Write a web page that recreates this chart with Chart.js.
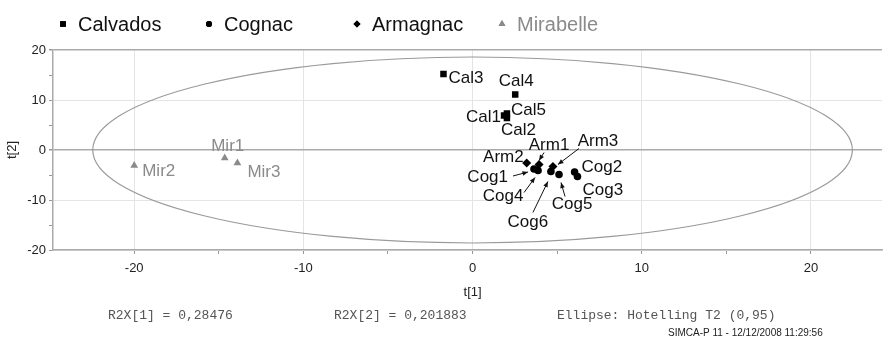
<!DOCTYPE html>
<html>
<head>
<meta charset="utf-8">
<script src="https://cdn.jsdelivr.net/npm/chart.js@4/dist/chart.umd.min.js"></script>
<style>
  html, body { margin: 0; padding: 0; background: #fff; }
  #contenedor { width: 889px; height: 342px; position: relative; }
</style>
</head>
<body>
<div id="contenedor"><canvas id="graficaScores"></canvas></div>
<script>
const calvadosNombres = ['Cal1', 'Cal2', 'Cal3', 'Cal4', 'Cal5'];
const calvadosT1 = [1.86, 2.03, -1.72, 2.52, 2.03];
const calvadosT2 = [6.9, 6.4, 15.2, 11.1, 7.3];

const cognacNombres = ['Cog1', 'Cog2', 'Cog3', 'Cog4', 'Cog5', 'Cog6'];
const cognacT1 = [3.63, 6.03, 6.2, 3.87, 5.11, 4.63];
const cognacT2 = [-3.8, -4.4, -5.3, -4.1, -4.9, -4.3];

const armagnacNombres = ['Arm1', 'Arm2', 'Arm3'];
const armagnacT1 = [3.93, 3.2, 4.75];
const armagnacT2 = [-2.9, -2.6, -3.3];

const mirabelleNombres = ['Mir1', 'Mir2', 'Mir3'];
const mirabelleT1 = [-14.65, -20.0, -13.9];
const mirabelleT2 = [-1.6, -3.1, -2.6];

// elipse Hotelling T2 (0,95): semiejes en t[1] y t[2]
const elipseT1 = 22.45;
const elipseT2 = 18.6;

const ticksT1 = [-20, -10, 0, 10, 20];
const ticksT2 = [-20, -10, 0, 10, 20];

const textosPie = ['R2X[1] = 0,28476', 'R2X[2] = 0,201883', 'Ellipse: Hotelling T2 (0,95)'];
const textoSimca = 'SIMCA-P 11 - 12/12/2008 11:29:56';

function puntos(xs, ys, nombres) {
  return xs.map((x, i) => ({ x: x, y: ys[i], nombre: nombres[i] }));
}

// posicion de cada etiqueta respecto a su punto (px), y flecha opcional
const etiquetas = {
  Cal1: { dx: -3, dy: 2, align: 'right' },
  Cal2: { dx: -6, dy: 12, align: 'left' },
  Cal3: { dx: 5, dy: 4, align: 'left' },
  Cal4: { dx: 1, dy: -13, align: 'center' },
  Cal5: { dx: 4, dy: -3, align: 'left' },
  Arm1: { dx: 10, dy: -19, align: 'center', flecha: [5, -12, 0, -4] },
  Arm2: { dx: -3, dy: -6, align: 'right' },
  Arm3: { dx: 45, dy: -25, align: 'center', flecha: [26, -18, 5, -2] },
  Cog1: { dx: -26, dy: 8, align: 'right', flecha: [-21, 7, -6, 3] },
  Cog2: { dx: 7, dy: -5, align: 'left' },
  Cog3: { dx: 5, dy: 14, align: 'left' },
  Cog4: { dx: -35, dy: 26, align: 'center', flecha: [-14, 22, -3, 7] },
  Cog5: { dx: 13, dy: 30, align: 'center', flecha: [6, 22, 2, 8] },
  Cog6: { dx: -23, dy: 51, align: 'center', flecha: [-18, 41, -3, 10] },
  Mir1: { dx: 3, dy: -12, align: 'center' },
  Mir2: { dx: 8, dy: 6, align: 'left' },
  Mir3: { dx: 10, dy: 9, align: 'left' }
};

const gris = '#8a8a8a';

const pluginElipse = {
  id: 'elipse',
  beforeDatasetsDraw(chart) {
    const ctx = chart.ctx;
    const sx = chart.scales.x, sy = chart.scales.y;
    const cx = sx.getPixelForValue(0), cy = sy.getPixelForValue(0);
    const rx = sx.getPixelForValue(elipseT1) - cx;
    const ry = cy - sy.getPixelForValue(elipseT2);
    ctx.save();
    ctx.beginPath();
    ctx.ellipse(cx, cy, rx, ry, 0, 0, Math.PI * 2);
    ctx.strokeStyle = '#9a9a9a';
    ctx.lineWidth = 1.2;
    ctx.stroke();
    ctx.restore();
  }
};

function flecha(ctx, x1, y1, x2, y2) {
  const ang = Math.atan2(y2 - y1, x2 - x1);
  const l = 6;
  ctx.beginPath();
  ctx.moveTo(x1, y1);
  ctx.lineTo(x2, y2);
  ctx.stroke();
  ctx.beginPath();
  ctx.moveTo(x2, y2);
  ctx.lineTo(x2 - l * Math.cos(ang - 0.4), y2 - l * Math.sin(ang - 0.4));
  ctx.lineTo(x2 - l * Math.cos(ang + 0.4), y2 - l * Math.sin(ang + 0.4));
  ctx.closePath();
  ctx.fill();
}

const pluginEtiquetas = {
  id: 'etiquetas',
  afterDatasetsDraw(chart) {
    const ctx = chart.ctx;
    ctx.save();
    ctx.font = '17px "Liberation Sans", Arial, sans-serif';
    ctx.textBaseline = 'middle';
    chart.data.datasets.forEach((ds, di) => {
      const meta = chart.getDatasetMeta(di);
      const color = ds.colorTexto;
      ds.data.forEach((p, i) => {
        const el = meta.data[i];
        const e = etiquetas[p.nombre];
        if (!e) return;
        ctx.fillStyle = color;
        ctx.strokeStyle = color;
        ctx.lineWidth = 1;
        ctx.textAlign = e.align;
        ctx.fillText(p.nombre, el.x + e.dx, el.y + e.dy);
        if (e.flecha) {
          const f = e.flecha;
          flecha(ctx, el.x + f[0], el.y + f[1], el.x + f[2], el.y + f[3]);
        }
      });
    });
    ctx.restore();
  }
};

const pluginTextos = {
  id: 'textos',
  afterDraw(chart) {
    const ctx = chart.ctx;
    ctx.save();
    // leyenda superior
    const leyendaX = [63, 209, 357, 502];
    ctx.font = '20px "Liberation Sans", Arial, sans-serif';
    ctx.textBaseline = 'alphabetic';
    ctx.textAlign = 'left';
    chart.data.datasets.forEach((ds, i) => {
      ctx.fillStyle = ds.backgroundColor;
      ctx.strokeStyle = ds.backgroundColor;
      Chart.helpers.drawPoint(ctx, {
        pointStyle: ds.pointStyle, radius: ds.radioLeyenda, rotation: 0, borderWidth: 0
      }, leyendaX[i], 24);
      ctx.fill();
      ctx.fillStyle = ds.colorTexto;
      ctx.fillText(ds.label, leyendaX[i] + 15, 31);
    });

    // titulos de ejes
    ctx.fillStyle = '#222';
    ctx.font = '13px "Liberation Sans", Arial, sans-serif';
    ctx.textAlign = 'center';
    ctx.textBaseline = 'middle';
    ctx.fillText('t[1]', chart.scales.x.getPixelForValue(0), 292);
    ctx.save();
    ctx.translate(12, chart.scales.y.getPixelForValue(0));
    ctx.rotate(-Math.PI / 2);
    ctx.fillText('t[2]', 0, 0);
    ctx.restore();

    // pie
    ctx.fillStyle = '#555';
    ctx.font = '13px "Liberation Mono", "Courier New", monospace';
    ctx.textAlign = 'left';
    const pieX = [108, 334, 557];
    textosPie.forEach((t, i) => ctx.fillText(t, pieX[i], 316));
    ctx.fillStyle = '#222';
    ctx.font = '10px "Liberation Sans", Arial, sans-serif';
    ctx.fillText(textoSimca, 668, 333);
    ctx.restore();
  }
};

const ctx = document.getElementById('graficaScores').getContext('2d');
window.graficaScores = new Chart(ctx, {
  type: 'scatter',
  data: {
    datasets: [
      {
        label: 'Calvados',
        data: puntos(calvadosT1, calvadosT2, calvadosNombres),
        pointStyle: 'rect', pointRadius: 4.6, radioLeyenda: 4,
        backgroundColor: '#000', borderColor: '#000', borderWidth: 0,
        colorTexto: '#111'
      },
      {
        label: 'Cognac',
        data: puntos(cognacT1, cognacT2, cognacNombres),
        pointStyle: 'circle', pointRadius: 3.8, radioLeyenda: 3,
        backgroundColor: '#000', borderColor: '#000', borderWidth: 0,
        colorTexto: '#111'
      },
      {
        label: 'Armagnac',
        data: puntos(armagnacT1, armagnacT2, armagnacNombres),
        pointStyle: 'rectRot', pointRadius: 4.5, radioLeyenda: 3.5,
        backgroundColor: '#000', borderColor: '#000', borderWidth: 0,
        colorTexto: '#111'
      },
      {
        label: 'Mirabelle',
        data: puntos(mirabelleT1, mirabelleT2, mirabelleNombres),
        pointStyle: 'triangle', pointRadius: 4.5, radioLeyenda: 4,
        backgroundColor: gris, borderColor: gris, borderWidth: 0,
        colorTexto: gris
      }
    ]
  },
  options: {
    responsive: true,
    maintainAspectRatio: false,
    animation: false,
    layout: { padding: { top: 50, left: 0, right: 0, bottom: 0 } },
    plugins: {
      legend: { display: false },
      tooltip: { enabled: false }
    },
    scales: {
      x: {
        type: 'linear',
        min: -24.8,
        max: 24.2,
        afterFit: s => { s.height = 92; },
        ticks: {
          stepSize: 5,
          autoSkip: false,
          maxRotation: 0,
          padding: 7,
          color: '#222',
          font: { family: 'Liberation Sans', size: 13 },
          callback: v => ticksT1.includes(v) ? String(v) : ''
        },
        grid: {
          color: c => (c.tick && c.tick.value % 10 === 0) ? '#e4e4e4' : 'rgba(0,0,0,0)',
          tickColor: c => (c.tick && c.tick.value % 5 === 0) ? '#999' : 'rgba(0,0,0,0)',
          tickLength: 4
        },
        border: { color: '#aaa', width: 1.5 }
      },
      y: {
        type: 'linear',
        min: -20,
        max: 20,
        afterFit: s => { s.width = 53; },
        ticks: {
          stepSize: 5,
          autoSkip: false,
          padding: 3,
          color: '#222',
          font: { family: 'Liberation Sans', size: 13 },
          callback: v => ticksT2.includes(v) ? String(v) : ''
        },
        grid: {
          color: c => {
            const v = c.tick ? c.tick.value : null;
            if (v === 0 || v === 20) return '#aaa';
            return v % 10 === 0 ? '#e4e4e4' : 'rgba(0,0,0,0)';
          },
          lineWidth: c => (c.tick && (c.tick.value === 0 || c.tick.value === 20)) ? 1.5 : 1,
          tickColor: '#999',
          tickLength: 4
        },
        border: { color: '#aaa', width: 1.5 }
      }
    }
  },
  plugins: [pluginElipse, pluginEtiquetas, pluginTextos]
});
</script>
</body>
</html>
